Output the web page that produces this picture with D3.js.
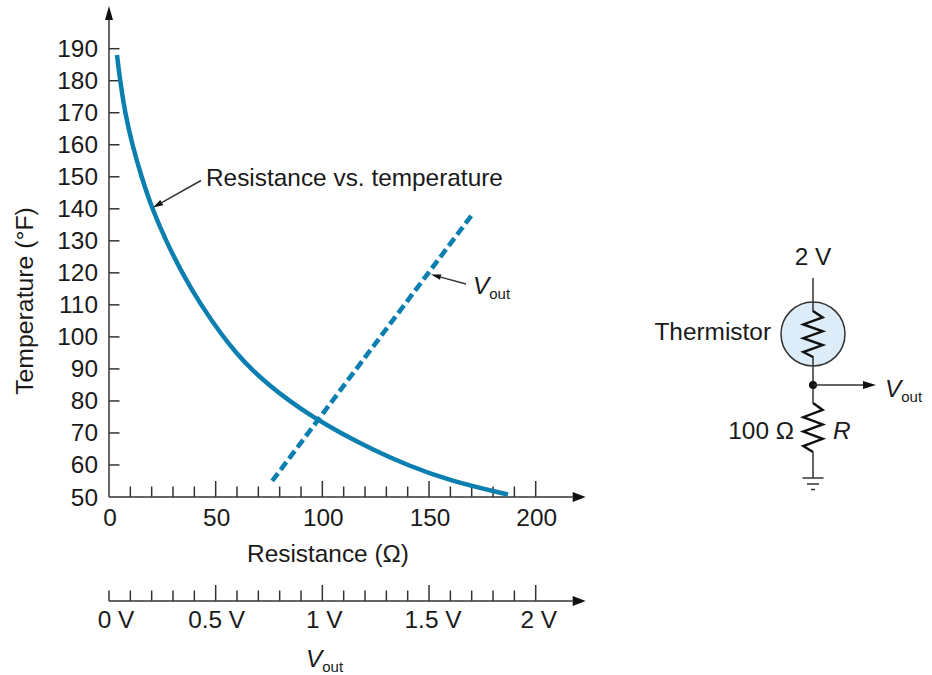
<!DOCTYPE html>
<html><head><meta charset="utf-8">
<style>
html,body{margin:0;padding:0;background:#fff}
svg{display:block}
text{font-family:"Liberation Sans",Arial,sans-serif;fill:#1a1a1a}
</style>
<script src="https://cdn.jsdelivr.net/npm/d3@7/dist/d3.min.js"></script>
</head><body>
<script>
// Data
const resistance = [3.75,5.2,7.5,10.9,15.2,20.2,26.7,34.2,43,53.5,59.7,66.5,75,84.5,95.5,108.5,123,139.5,160,187];
const temperature = [188,180,170,160,150,140,130,120,110,100,95,90,85,80,75,70,65,60,55,50.8];
const vout = [0.765,1.70];
const voutTemperature = [55,138];
const yTicks = [50,60,70,80,90,100,110,120,130,140,150,160,170,180,190];
const xMajor = [50,100,150,200];
const xMinor = [10,20,30,40,60,70,80,90,110,120,130,140,160,170,180,190];
const xLabels = [0,50,100,150,200];
const vMajor = [0.5,1,1.5,2];
const vMinor = [0,0.1,0.2,0.3,0.4,0.6,0.7,0.8,0.9,1.1,1.2,1.3,1.4,1.6,1.7,1.8,1.9];
const vLabels = ["0 V","0.5 V","1 V","1.5 V","2 V"];
const vLabelNudge = [7,1,2,4,3];

const INK="#333", BLUE="#0a7fb0", FS=24.4;
const svg=d3.select("body").append("svg").attr("width",932).attr("height",675);
const x=d3.scaleLinear().domain([0,200]).range([109,535.7]);
const v=d3.scaleLinear().domain([0,2]).range([109,535.7]);
const y=d3.scaleLinear().domain([50,190]).range([497,48.7]);

function arrow(x1,y1,x2,y2,len,hw){
  const a=Math.atan2(y2-y1,x2-x1),bx=x2-len*Math.cos(a),by=y2-len*Math.sin(a);
  svg.append("line").attr("x1",x1).attr("y1",y1).attr("x2",bx).attr("y2",by).attr("stroke",INK).attr("stroke-width",1.5);
  const nx=-Math.sin(a)*hw,ny=Math.cos(a)*hw;
  svg.append("path").attr("d",`M${x2},${y2}L${bx+nx},${by+ny}L${bx-nx},${by-ny}Z`).attr("fill","#111");
}
function label(t,px,py,anchor="middle",size=FS,style="normal"){
  return svg.append("text").attr("x",px).attr("y",py).attr("text-anchor",anchor)
    .attr("font-size",size).attr("font-style",style).text(t);
}
function vLabel(px,py,anchor="start"){
  const t=svg.append("text").attr("x",px).attr("y",py).attr("text-anchor",anchor).attr("font-size",FS);
  t.append("tspan").attr("font-style","italic").text("V");
  t.append("tspan").attr("font-size",15).attr("dy",4.5).text("out");
}

// Axes
arrow(109,497,585.7,497,13,5);
arrow(109,497,109,6,14,4);
arrow(109,601,585.7,601,13,5);

const tick=(sel,xf,y0,len)=>sel.append("line").attr("x1",xf).attr("x2",xf).attr("y1",y0).attr("y2",y0-len).attr("stroke",INK).attr("stroke-width",1.5);
tick(svg.append("g").selectAll("line").data(xMajor).enter(),d=>x(d),497,16);
tick(svg.append("g").selectAll("line").data(xMinor).enter(),d=>x(d),497,10.5);
tick(svg.append("g").selectAll("line").data(vMajor).enter(),d=>v(d),601,16);
tick(svg.append("g").selectAll("line").data(vMinor).enter(),d=>v(d),601,10.5);

svg.append("g").selectAll("line").data(yTicks.slice(1)).enter().append("line")
  .attr("x1",109).attr("x2",119.5).attr("y1",d=>y(d)).attr("y2",d=>y(d)).attr("stroke",INK).attr("stroke-width",1.5);
yTicks.forEach(d=>label(d,98,y(d)+8.5,"end"));
xLabels.forEach(d=>label(d,x(d)+1,526));
vLabels.forEach((d,i)=>label(d,v(i*0.5)+vLabelNudge[i],627.5));

label("Resistance (Ω)",328,562);
vLabel(306,667);
label("Temperature (°F)",0,0,"middle",24.8).attr("transform","translate(33,301) rotate(-90)");

// Curves
const line=d3.line().x(d=>x(d[0])).y(d=>y(d[1])).curve(d3.curveBasis);
svg.append("path").datum(resistance.map((r,i)=>[r,temperature[i]])).attr("d",line)
  .attr("fill","none").attr("stroke",BLUE).attr("stroke-width",4.5);
svg.append("path").datum(vout.map((d,i)=>[d*100,voutTemperature[i]])).attr("d",d3.line().x(d=>x(d[0])).y(d=>y(d[1])))
  .attr("fill","none").attr("stroke",BLUE).attr("stroke-width",4.6).attr("stroke-dasharray","9.5 4.5");

// Annotations
label("Resistance vs. temperature",206,186,"start");
arrow(201,180.5,153,207.5,10,3);
vLabel(473,294);
arrow(466,284,431,274.5,10,2.6);

// Schematic
const cx=813;
const wire=(a,b,c,d)=>svg.append("line").attr("x1",a).attr("y1",b).attr("x2",c).attr("y2",d).attr("stroke",INK).attr("stroke-width",1.5);
svg.append("circle").attr("cx",cx).attr("cy",334).attr("r",32).attr("fill","#dcecf9").attr("stroke",INK).attr("stroke-width",1.5);
wire(cx,278,cx,312);
wire(cx,356,cx,385);
const zig=(y0,n,first,step,w,end)=>{
  const pts=[[cx,y0]];
  for(let i=0;i<n;i++) pts.push([cx+(i%2?-w:w),y0+first+step*i]);
  pts.push([cx,y0+end]);
  svg.append("path").attr("d",d3.line()(pts)).attr("fill","none").attr("stroke","#111").attr("stroke-width",2.4);
};
zig(311,6,6.5,6.9,9.7,46);
zig(403,6,7,7.2,9.7,49);
wire(cx,385,cx,403);
wire(cx,452,cx,478);
svg.append("circle").attr("cx",cx).attr("cy",385).attr("r",4).attr("fill","#111");
arrow(cx,385,876,385,13,4);
wire(802.5,478,823.5,478);
wire(807,484,819,484);
wire(811,489.5,815,489.5);
label("2 V",813,265);
label("Thermistor",771,340,"end");
vLabel(885,397);
label("100 Ω",794,439,"end");
label("R",833,439,"start",FS,"italic");
</script>
</body></html>
